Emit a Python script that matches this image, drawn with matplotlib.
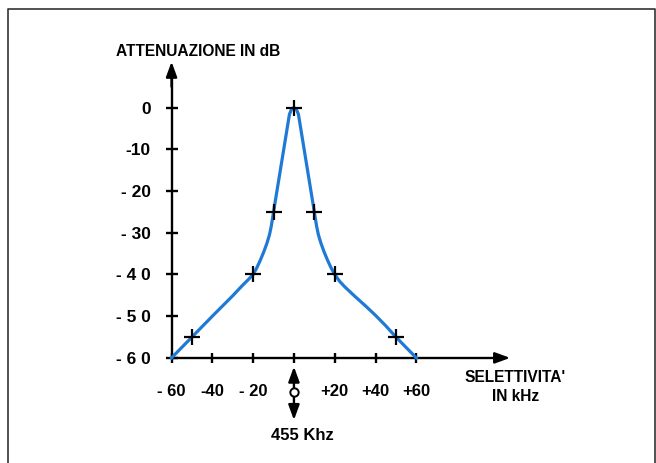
# Curva di selettivita' del filtro a 455 kHz

import matplotlib.pyplot as plt
from matplotlib.lines import Line2D

plt.rcParams['font.family'] = ['Liberation Sans', 'DejaVu Sans']

# curva (kHz, dB)
sel_khz = [-60, -50, -40, -30, -25, -22.5, -20, -18.2, -16.5, -14.8, -13.3, -12, -11.1,
           -10.5, -10, -7, -4.5, -2.2, -1.2, 0,
           1.2, 2.2, 4.5, 7, 10, 10.5, 11.1, 12, 13.3, 14.8, 16.5, 18.2, 20,
           22.5, 25, 30, 35, 40, 45, 50, 60]
att_db = [-60, -55, -50, -45.1, -42.5, -41.3, -40, -38.4, -36.6, -34.6, -32.6, -30.5, -28.4,
          -26.6, -25, -16, -8.5, -1.6, -0.4, 0,
          -0.4, -1.6, -8.5, -16, -25, -26.6, -28.4, -30.5, -32.6, -34.6, -36.6, -38.4, -40,
          -41.7, -43, -45.3, -47.5, -49.8, -52.3, -55, -60]

# punti di misura (crocette)
pts_khz = [-50, -20, -10, 0, 10, 20, 50]
pts_db = [-55, -40, -25, 0, -25, -40, -55]

x_ticks = [-60, -40, -20, 0, 20, 40, 60]
x_labels = ['- 60', '-40', '- 20', '', '+20', '+40', '+60']
y_ticks = [0, -10, -20, -30, -40, -50, -60]
y_labels = ['0', '-10', '- 20', '- 30', '- 4 0', '- 5 0', '- 6 0']

blue = '#1f7ad6'

fig = plt.figure(figsize=(6.56, 4.63), dpi=100)
ax = fig.add_axes([0, 0, 1, 1])
ax.set_xlim(-144.1, 177.5)
ax.set_ylim(-85.2, 25.8)
ax.patch.set_alpha(0)

# assi
for s in ['top', 'right']:
    ax.spines[s].set_visible(False)
ax.spines['left'].set_position(('data', -60))
ax.spines['bottom'].set_position(('data', -60))
ax.spines['left'].set_bounds(-60, 8)
ax.spines['bottom'].set_bounds(-60, 100)
for s in ['left', 'bottom']:
    ax.spines[s].set_linewidth(1.7)
    ax.spines[s].set_color('black')

ax.set_xticks(x_ticks)
ax.set_xticklabels(x_labels)
ax.set_yticks(y_ticks)
ax.set_yticklabels(y_labels)
ax.tick_params(axis='x', direction='inout', length=7, width=1.7, pad=15, labelsize=12)
ax.tick_params(axis='y', direction='inout', length=8, width=1.7, pad=11, labelsize=12.5)
for lab in ax.get_xticklabels() + ax.get_yticklabels():
    lab.set_fontweight('bold')

arrow = dict(arrowstyle='-|>,head_length=0.9,head_width=0.33',
             color='black', lw=1.7, shrinkA=0, shrinkB=0)

# frecce degli assi
ax.annotate('', xy=(-60, 11), xytext=(-60, 5), arrowprops=arrow)
ax.annotate('', xy=(106, -60), xytext=(98, -60), arrowprops=arrow)

# curva e crocette
ax.plot(sel_khz, att_db, color=blue, lw=2.3, solid_joinstyle='round', zorder=3)
ax.plot(pts_khz, pts_db, linestyle='none', marker='+', markersize=11,
        markeredgewidth=1.6, color='black', zorder=4)

# indicatore 455 kHz sotto lo zero
ax.annotate('', xy=(0, -62.1), xytext=(0, -68.2), arrowprops=dict(arrow, shrinkA=3))
ax.annotate('', xy=(0, -74.9), xytext=(0, -68.2), arrowprops=dict(arrow, shrinkA=3))
ax.plot([0], [-68.2], marker='o', markersize=6, markerfacecolor='white',
        markeredgecolor='black', markeredgewidth=1.4, zorder=5)
ax.text(4, -78.6, '455 Khz', ha='center', va='center', fontsize=12,
        fontweight='bold')

# titoli degli assi
ax.text(-87, 13.4, 'ATTENUAZIONE IN dB', ha='left', va='center', fontsize=11.2,
        fontweight='bold')
ax.text(108.5, -64.6, "SELETTIVITA'", ha='center', va='center', fontsize=11.2,
        fontweight='bold')
ax.text(108.5, -69.3, 'IN kHz', ha='center', va='center', fontsize=11.2,
        fontweight='bold')

# cornice
W, H = 656, 463
fig.add_artist(Line2D([8 / W, 8 / W, 654.5 / W, 654.5 / W],
                      [0, 1 - 9 / H, 1 - 9 / H, 0],
                      transform=fig.transFigure, color='#333333', lw=1.2))

fig.savefig('out.png', dpi=100, facecolor='white')
